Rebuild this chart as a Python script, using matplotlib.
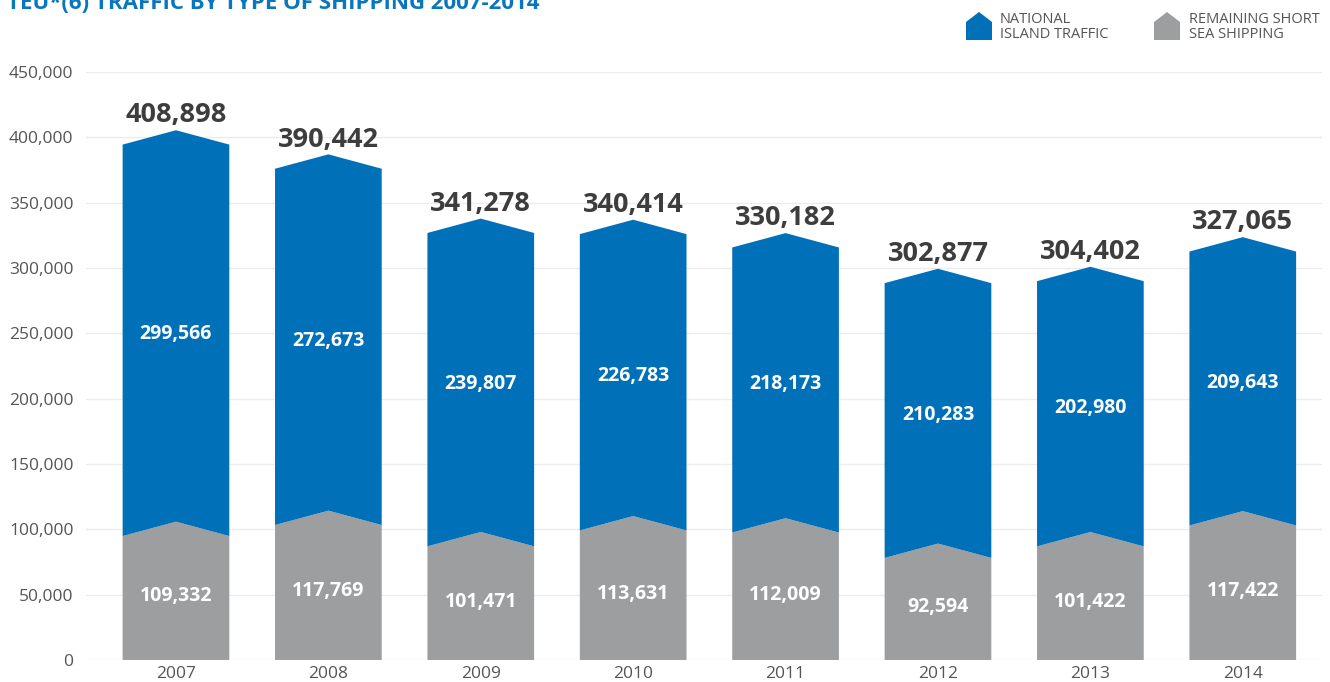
import numpy as np
import matplotlib
matplotlib.use("Agg")
import matplotlib.pyplot as plt
from matplotlib.patches import Polygon

plt.rcParams['font.family'] = ['Open Sans', 'DejaVu Sans']

years = ['2007', '2008', '2009', '2010', '2011', '2012', '2013', '2014']
national = [299566, 272673, 239807, 226783, 218173, 210283, 202980, 209643]
short_sea = [109332, 117769, 101471, 113631, 112009, 92594, 101422, 117422]
totals = [408898, 390442, 341278, 340414, 330182, 302877, 304402, 327065]

blue = '#0071b9'
grey = '#9d9ea0'
txt = '#555555'

fig = plt.figure(figsize=(13.3, 6.82), dpi=100)
ax = fig.add_axes([0.0647, 0.0323, 0.9293, 0.8622])

w = 0.7      # bar width
drop = 3500  # peak sits a little under the value
notch = 11000

for i in range(len(years)):
    g = short_sea[i]
    t = totals[i]
    gp, gs = g - drop, g - drop - notch
    tp, ts = t - drop, t - drop - notch
    ax.add_patch(Polygon([(i - w/2, 0), (i - w/2, gs), (i, gp), (i + w/2, gs), (i + w/2, 0)],
                         closed=True, fc=grey, ec='none', zorder=2))
    ax.add_patch(Polygon([(i - w/2, gs), (i - w/2, ts), (i, tp), (i + w/2, ts), (i + w/2, gs), (i, gp)],
                         closed=True, fc=blue, ec='none', zorder=2))
    ax.text(i, t + 2500, f'{t:,}', ha='center', va='baseline', fontsize=19.5,
            fontweight='bold', color='#3d3d3d', zorder=3)
    ax.text(i, g + national[i] / 2 - 10000, f'{national[i]:,}', ha='center', va='center',
            fontsize=14, fontweight='bold', color='white', zorder=3)
    ax.text(i, g / 2 - 6000, f'{g:,}', ha='center', va='center',
            fontsize=14, fontweight='bold', color='white', zorder=3)

ax.set_xlim(-0.59, 7.52)
ax.set_ylim(0, 450000)
ax.set_yticks(np.arange(0, 450001, 50000))
ax.set_yticklabels([f'{v:,}' for v in range(0, 450001, 50000)])
ax.set_xticks(range(len(years)))
ax.set_xticklabels(years)
ax.tick_params(axis='both', length=0, labelsize=12.5, labelcolor=txt)
ax.tick_params(axis='y', pad=9)
ax.tick_params(axis='x', pad=4)
ax.grid(axis='y', color='#ececec', lw=1, zorder=0)
ax.set_axisbelow(True)
for s in ax.spines.values():
    s.set_visible(False)

# title (cropped at the top like the source)
fig.text(7 / 1330, 1 - 9 / 682, 'TEU*(6) TRAFFIC BY TYPE OF SHIPPING 2007-2014',
         ha='left', va='baseline', fontsize=16, fontweight='bold', color='#0a76bd')

# legend
def house(x0, color):
    W, H = 1330, 682
    pts = [(x0, 40), (x0, 22), (x0 + 13, 12), (x0 + 26, 22), (x0 + 26, 40)]
    fig.patches.append(Polygon([(px / W, 1 - py / H) for px, py in pts], closed=True,
                               fc=color, ec='none', transform=fig.transFigure))

house(966, blue)
house(1154, grey)
fig.text(1000 / 1330, 1 - 27 / 682, 'NATIONAL\nISLAND TRAFFIC', ha='left', va='center',
         fontsize=10.5, color=txt, linespacing=0.95)
fig.text(1189 / 1330, 1 - 27 / 682, 'REMAINING SHORT\nSEA SHIPPING', ha='left', va='center',
         fontsize=10.5, color=txt, linespacing=0.95)

fig.savefig('out.png', dpi=100)
